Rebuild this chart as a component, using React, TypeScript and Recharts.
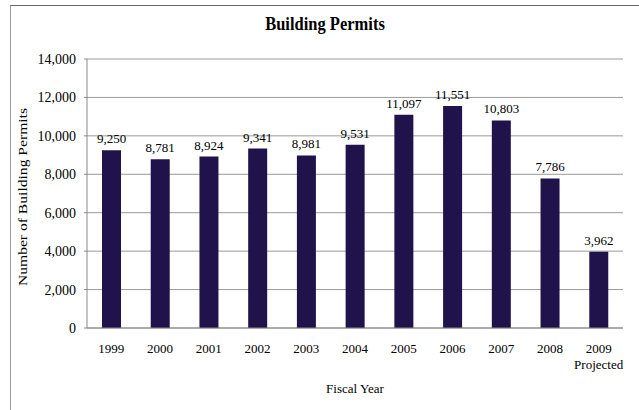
import React from "react";
import { BarChart, Bar, XAxis, YAxis, CartesianGrid, LabelList } from "recharts";

const years = ["1999", "2000", "2001", "2002", "2003", "2004", "2005", "2006", "2007", "2008", "2009"];
const permits = [9250, 8781, 8924, 9341, 8981, 9531, 11097, 11551, 10803, 7786, 3962];
const yTicks = [0, 2000, 4000, 6000, 8000, 10000, 12000, 14000];
const boundaryTicks = [0, 1, 2, 3, 4, 5, 6, 7, 8, 9, 10, 11];

const data = years.map((year, i) => ({ year, value: permits[i] }));

const FONT = "'Liberation Serif', 'Times New Roman', serif";

const fmt = (v: number) => v.toLocaleString("en-US");

const YearTick = ({ x, y, payload }: any) => {
  const isLast = payload.value === "2009";
  return (
    <g transform={`translate(${x},${y})`}>
      <text x={0} y={0} dy={17} textAnchor="middle" style={{ fontFamily: FONT, fontSize: 13 }} fill="#000">
        {payload.value}
      </text>
      {isLast && (
        <text x={0} y={0} dy={33} textAnchor="middle" style={{ fontFamily: FONT, fontSize: 13 }} fill="#000">
          Projected
        </text>
      )}
    </g>
  );
};

const ValueTick = ({ x, y, payload }: any) => (
  <text x={x - 6} y={y} dy={5} textAnchor="end" style={{ fontFamily: FONT, fontSize: 14 }} fill="#000">
    {fmt(payload.value)}
  </text>
);

export default function App() {
  return (
    <div style={{ position: "absolute", left: 0, top: 0, width: 639, height: 410, background: "#fff", overflow: "hidden" }}>
      <div
        style={{
          position: "absolute",
          left: 10,
          top: 5,
          width: 700,
          height: 500,
          borderLeft: "1.5px solid #999",
          borderTop: "1.5px solid #666",
        }}
      />
      <div
        style={{
          position: "absolute",
          left: 325,
          top: 24,
          transform: "translate(-50%, -50%) scaleY(1.1)",
          whiteSpace: "nowrap",
          fontFamily: FONT,
          fontWeight: "bold",
          fontSize: 16.5,
          color: "#000",
        }}
      >
        Building Permits
      </div>
      <div
        style={{
          position: "absolute",
          left: 23,
          top: 197,
          transform: "translate(-50%, -50%) rotate(-90deg) scaleX(1.2)",
          whiteSpace: "nowrap",
          fontFamily: FONT,
          fontSize: 13,
          color: "#000",
        }}
      >
        Number of Building Permits
      </div>
      <div
        style={{
          position: "absolute",
          left: 355,
          top: 389,
          transform: "translate(-50%, -50%)",
          whiteSpace: "nowrap",
          fontFamily: FONT,
          fontSize: 13,
          color: "#000",
        }}
      >
        Fiscal Year
      </div>
      <BarChart
        width={639}
        height={410}
        data={data}
        margin={{ top: 59, right: 16, bottom: 0, left: 7 }}
        style={{ position: "absolute", left: 0, top: 0 }}
      >
        <CartesianGrid vertical={false} stroke="#9a9a9a" strokeWidth={1} />
        <XAxis
          dataKey="year"
          xAxisId="cat"
          height={82}
          tickLine={false}
          axisLine={{ stroke: "#888" }}
          tick={<YearTick />}
          interval={0}
        />
        <XAxis
          xAxisId="edges"
          type="number"
          domain={[0, 11]}
          ticks={boundaryTicks}
          height={0}
          axisLine={false}
          tickLine={{ stroke: "#888" }}
          tickSize={5}
          tick={false}
          allowDataOverflow
        />
        <YAxis
          width={80}
          domain={[0, 14000]}
          ticks={yTicks}
          axisLine={{ stroke: "#888" }}
          tickLine={{ stroke: "#888" }}
          tickSize={3}
          tick={<ValueTick />}
        />
        <Bar dataKey="value" xAxisId="cat" fill="#20134b" barSize={19} isAnimationActive={false}>
          <LabelList
            dataKey="value"
            position="top"
            offset={7}
            formatter={(v: any) => fmt(Number(v))}
            style={{ fontFamily: FONT, fontSize: 13, fill: "#000" }}
          />
        </Bar>
      </BarChart>
    </div>
  );
}
